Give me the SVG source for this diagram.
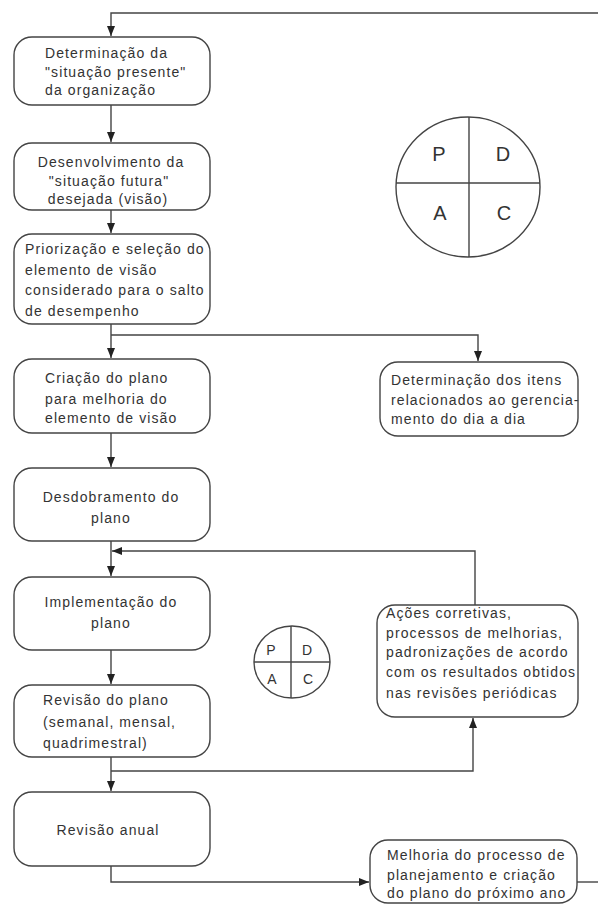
<svg xmlns="http://www.w3.org/2000/svg" width="598" height="908" viewBox="0 0 598 908">
<defs>
<style>
.box{fill:#fff;stroke:#444;stroke-width:1.4}
.t{font-family:"Liberation Sans",Arial,sans-serif;font-size:14px;fill:#333;letter-spacing:1.1px}
.c{text-anchor:middle}
.ln{fill:none;stroke:#444;stroke-width:1.4}
.pd{font-family:"Liberation Sans",Arial,sans-serif;fill:#333;text-anchor:middle}
</style>
<marker id="ah" markerUnits="userSpaceOnUse" markerWidth="10" markerHeight="8" refX="10" refY="4" orient="auto">
<path d="M0,0 L10,4 L0,8 z" fill="#222"/>
</marker>
</defs>
<rect width="598" height="908" fill="#fff"/>

<g id="connectors">
<path class="ln" d="M598,13 H111 V36" marker-end="url(#ah)"/>
<path class="ln" d="M111,105 V142" marker-end="url(#ah)"/>
<path class="ln" d="M111,210 V233" marker-end="url(#ah)"/>
<path class="ln" d="M111,324 V358" marker-end="url(#ah)"/>
<path class="ln" d="M111,335 H478 V361" marker-end="url(#ah)"/>
<path class="ln" d="M111,433 V467" marker-end="url(#ah)"/>
<path class="ln" d="M111,541 V576" marker-end="url(#ah)"/>
<path class="ln" d="M475,605 V551 H112" marker-end="url(#ah)"/>
<path class="ln" d="M111,650 V684" marker-end="url(#ah)"/>
<path class="ln" d="M111,757 V791" marker-end="url(#ah)"/>
<path class="ln" d="M111,771 H473 V718" marker-end="url(#ah)"/>
<path class="ln" d="M111,866 V882 H369" marker-end="url(#ah)"/>
<path class="ln" d="M577,882 H598"/>
</g>

<g id="n1">
<rect class="box" x="14" y="37" width="196" height="68" rx="18"/>
<text class="t" x="45" y="58">Determinação da</text>
<text class="t" x="45" y="77">"situação presente"</text>
<text class="t" x="45" y="95">da organização</text>
</g>
<g id="n2">
<rect class="box" x="14" y="143" width="196" height="67" rx="18"/>
<text class="t c" x="111" y="167">Desenvolvimento da</text>
<text class="t c" x="109" y="186">"situação futura"</text>
<text class="t c" x="108" y="204">desejada (visão)</text>
</g>
<g id="n3">
<rect class="box" x="14" y="234" width="196" height="90" rx="18"/>
<text class="t" x="25" y="254">Priorização e seleção do</text>
<text class="t" x="25" y="274.5">elemento de visão</text>
<text class="t" x="25" y="295">considerado para o salto</text>
<text class="t" x="25" y="315.5">de desempenho</text>
</g>
<g id="n4">
<rect class="box" x="14" y="359" width="196" height="74" rx="18"/>
<text class="t" x="45" y="383">Criação do plano</text>
<text class="t" x="45" y="404">para melhoria do</text>
<text class="t" x="45" y="423">elemento de visão</text>
</g>
<g id="n5">
<rect class="box" x="14" y="468" width="196" height="73" rx="18"/>
<text class="t c" x="111" y="502">Desdobramento do</text>
<text class="t c" x="111" y="523">plano</text>
</g>
<g id="n6">
<rect class="box" x="14" y="577" width="196" height="73" rx="18"/>
<text class="t c" x="111" y="607">Implementação do</text>
<text class="t c" x="111" y="628">plano</text>
</g>
<g id="n7">
<rect class="box" x="14" y="685" width="196" height="72" rx="18"/>
<text class="t" x="43" y="705">Revisão do plano</text>
<text class="t" x="43" y="727">(semanal, mensal,</text>
<text class="t" x="43" y="748">quadrimestral)</text>
</g>
<g id="n8">
<rect class="box" x="14" y="792" width="196" height="74" rx="18"/>
<text class="t c" x="108" y="835">Revisão anual</text>
</g>
<g id="n9">
<rect class="box" x="380" y="362" width="198" height="74" rx="18"/>
<text class="t" x="391" y="385">Determinação dos itens</text>
<text class="t" x="391" y="405">relacionados ao gerencia-</text>
<text class="t" x="391" y="424">mento do dia a dia</text>
</g>
<g id="n10">
<rect class="box" x="377" y="605" width="201" height="112" rx="18"/>
<text class="t" x="386" y="618">Ações corretivas,</text>
<text class="t" x="386" y="638">processos de melhorias,</text>
<text class="t" x="386" y="657">padronizações de acordo</text>
<text class="t" x="386" y="677">com os resultados obtidos</text>
<text class="t" x="386" y="698">nas revisões periódicas</text>
</g>
<g id="n11">
<rect class="box" x="370" y="840" width="207" height="63" rx="18"/>
<text class="t" x="387" y="860">Melhoria do processo de</text>
<text class="t" x="387" y="880">planejamento e criação</text>
<text class="t" x="387" y="898">do plano do próximo ano</text>
</g>

<g id="pdca-large">
<ellipse class="ln" cx="468" cy="187" rx="72" ry="70"/>
<line class="ln" x1="469" y1="117" x2="469" y2="257"/>
<line class="ln" x1="396" y1="183" x2="540" y2="183"/>
<text class="pd" x="439" y="161" font-size="20">P</text>
<text class="pd" x="503" y="161" font-size="20">D</text>
<text class="pd" x="440" y="220" font-size="20">A</text>
<text class="pd" x="504" y="220" font-size="20">C</text>
</g>
<g id="pdca-small">
<ellipse class="ln" cx="292" cy="662" rx="38" ry="36"/>
<line class="ln" x1="291" y1="626" x2="291" y2="698"/>
<line class="ln" x1="254" y1="662" x2="330" y2="662"/>
<text class="pd" x="271" y="655" font-size="14">P</text>
<text class="pd" x="307" y="655" font-size="14">D</text>
<text class="pd" x="272" y="684" font-size="14">A</text>
<text class="pd" x="308" y="684" font-size="14">C</text>
</g>
</svg>
